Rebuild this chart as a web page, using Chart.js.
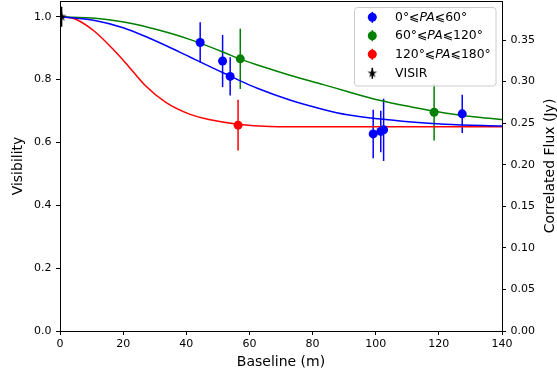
<!DOCTYPE html>
<html>
<head>
<meta charset="utf-8">
<script src="https://cdn.jsdelivr.net/npm/chart.js@4"></script>
<style>
  html, body { margin: 0; padding: 0; background: #fff; }
  #wrap { width: 557px; height: 377px; }
</style>
</head>
<body>
<div id="wrap"><canvas id="chart"></canvas></div>
<script>
// ticks
const baselineTicks = [0, 20, 40, 60, 80, 100, 120, 140];
const visTicks = [0, 0.2, 0.4, 0.6, 0.8, 1.0];
const fluxTicks = [0, 0.05, 0.10, 0.15, 0.20, 0.25, 0.30, 0.35];

// measured points (baseline m, visibility, error)
const blueX = [44.4, 51.5, 53.9, 99.2, 101.6, 102.5, 127.4];
const blueY = [0.918, 0.859, 0.810, 0.627, 0.635, 0.640, 0.691];
const blueErr = [0.064, 0.083, 0.061, 0.077, 0.066, 0.099, 0.061];

const greenX = [57.1, 118.5];
const greenY = [0.866, 0.696];
const greenErr = [0.096, 0.090];

const redX = [56.4];
const redY = [0.655];
const redErr = [0.081];

const visirX = [0.5];
const visirY = [1.0];
const visirErr = [0.032];

// model curves
const blueCurveX = [0, 11, 20, 28, 35.5, 41.3, 46.5, 51.8, 57.1, 62.3, 72.8, 83.4, 91, 100.8, 111.3, 121.9, 140];
const blueCurveY = [1.0, 0.988, 0.965, 0.933, 0.899, 0.871, 0.846, 0.821, 0.796, 0.773, 0.735, 0.705, 0.688, 0.675, 0.665, 0.658, 0.652];

const greenCurveX = [0, 11.2, 19.7, 28.1, 35.5, 41.3, 51.8, 57.1, 62.3, 72.8, 83.4, 91, 100.8, 111.3, 121.9, 132.4, 140];
const greenCurveY = [1.0, 0.995, 0.984, 0.966, 0.946, 0.927, 0.887, 0.865, 0.847, 0.814, 0.784, 0.762, 0.735, 0.713, 0.694, 0.680, 0.673];

const redCurveX = [0, 2.5, 5, 11, 17.5, 21.8, 27, 33.4, 41, 47.6, 56.3, 66.6, 80, 100, 120, 140];
const redCurveY = [1.0, 0.998, 0.992, 0.953, 0.889, 0.841, 0.781, 0.728, 0.690, 0.672, 0.658, 0.651, 0.650, 0.650, 0.650, 0.650];

const legendLabels = [
  [['0°⩽', false], ['PA', true], ['⩽60°', false]],
  [['60°⩽', false], ['PA', true], ['⩽120°', false]],
  [['120°⩽', false], ['PA', true], ['⩽180°', false]],
  [['VISIR', false]]
];
const legendColors = ['#0000ff', '#008000', '#ff0000', '#000000'];

const FONT = "'DejaVu Sans'";
Chart.defaults.font.family = FONT;
Chart.defaults.color = '#000';

const pts = (xs, ys) => xs.map((x, i) => ({ x: x, y: ys[i] }));

function makeStar(r) {
  const s = Math.ceil(r * 2) + 2;
  const c = document.createElement('canvas');
  c.width = s; c.height = s;
  const g = c.getContext('2d');
  g.beginPath();
  for (let k = 0; k < 10; k++) {
    const rad = k % 2 ? r * 0.4 : r;
    const a = -Math.PI / 2 + k * Math.PI / 5;
    g.lineTo(s / 2 + rad * Math.cos(a), s / 2 + rad * Math.sin(a));
  }
  g.closePath();
  g.fillStyle = '#000';
  g.fill();
  return c;
}
const star = makeStar(5);

const errorBars = {
  id: 'errorBars',
  beforeDatasetsDraw(chart) {
    const { ctx, chartArea: a, scales: { x, y } } = chart;
    ctx.save();
    ctx.beginPath();
    ctx.rect(a.left, a.top, a.right - a.left, a.bottom - a.top);
    ctx.clip();
    ctx.lineWidth = 1.5;
    chart.data.datasets.forEach(ds => {
      if (!ds.errors) return;
      ctx.strokeStyle = ds.borderColor;
      ds.data.forEach((p, i) => {
        const px = x.getPixelForValue(p.x);
        ctx.beginPath();
        ctx.moveTo(px, y.getPixelForValue(p.y - ds.errors[i]));
        ctx.lineTo(px, y.getPixelForValue(p.y + ds.errors[i]));
        ctx.stroke();
      });
    });
    ctx.restore();
  }
};

const extras = {
  id: 'extras',
  afterDraw(chart) {
    const { ctx, chartArea: a } = chart;
    ctx.save();
    // top frame line
    ctx.strokeStyle = '#000';
    ctx.lineWidth = 1;
    ctx.beginPath();
    ctx.moveTo(a.left, a.top + 0.5);
    ctx.lineTo(a.right, a.top + 0.5);
    ctx.stroke();

    // right axis title, reading upward
    ctx.translate(550, (a.top + a.bottom) / 2);
    ctx.rotate(-Math.PI / 2);
    ctx.font = '14px ' + FONT;
    ctx.fillStyle = '#000';
    ctx.textAlign = 'center';
    ctx.textBaseline = 'middle';
    ctx.fillText('Correlated Flux (Jy)', 0, 0);
    ctx.restore();

    // legend
    ctx.save();
    const bx = 354.5, by = 7.5, bw = 141.5, bh = 78.5, r = 3;
    ctx.beginPath();
    ctx.roundRect(bx, by, bw, bh, r);
    ctx.fillStyle = 'rgba(255,255,255,0.8)';
    ctx.fill();
    ctx.strokeStyle = '#cccccc';
    ctx.lineWidth = 1;
    ctx.stroke();
    const rows = [17.3, 35.7, 54.3, 73.3];
    ctx.textBaseline = 'middle';
    legendLabels.forEach((segs, i) => {
      const yy = rows[i];
      const mx = 372.3;
      ctx.strokeStyle = legendColors[i];
      ctx.lineWidth = 1.5;
      ctx.beginPath();
      ctx.moveTo(mx, yy - 5.5);
      ctx.lineTo(mx, yy + 5.5);
      ctx.stroke();
      if (i < 3) {
        ctx.fillStyle = legendColors[i];
        ctx.beginPath();
        ctx.arc(mx, yy, 4.5, 0, Math.PI * 2);
        ctx.fill();
      } else {
        ctx.drawImage(star, mx - star.width / 2, yy - star.height / 2);
      }
      let tx = 395;
      ctx.fillStyle = '#000';
      segs.forEach(([t, it]) => {
        ctx.font = (it ? 'italic ' : '') + '12.4px ' + FONT;
        ctx.fillText(t, tx, yy);
        tx += ctx.measureText(t).width;
      });
    });
    ctx.restore();
  }
};

const tickFont = { family: FONT, size: 11 };
const noPadY = s => { s.paddingTop = 0; s.paddingBottom = 0; };

new Chart(document.getElementById('chart'), {
  type: 'scatter',
  data: {
    datasets: [
      { label: 'visir', data: pts(visirX, visirY), errors: visirErr, borderColor: '#000', backgroundColor: '#000', pointStyle: star, pointRadius: 5 },
      { label: 'blue', data: pts(blueX, blueY), errors: blueErr, borderColor: '#0000ff', backgroundColor: '#0000ff', pointRadius: 4.5, borderWidth: 0 },
      { label: 'green', data: pts(greenX, greenY), errors: greenErr, borderColor: '#008000', backgroundColor: '#008000', pointRadius: 4.5, borderWidth: 0 },
      { label: 'red', data: pts(redX, redY), errors: redErr, borderColor: '#ff0000', backgroundColor: '#ff0000', pointRadius: 4.5, borderWidth: 0 },
      { label: 'blue fit', data: pts(blueCurveX, blueCurveY), showLine: true, pointRadius: 0, borderColor: '#0000ff', borderWidth: 1.5, cubicInterpolationMode: 'monotone' },
      { label: 'green fit', data: pts(greenCurveX, greenCurveY), showLine: true, pointRadius: 0, borderColor: '#008000', borderWidth: 1.5, cubicInterpolationMode: 'monotone' },
      { label: 'red fit', data: pts(redCurveX, redCurveY), showLine: true, pointRadius: 0, borderColor: '#ff0000', borderWidth: 1.5, cubicInterpolationMode: 'monotone' }
    ]
  },
  options: {
    responsive: true,
    maintainAspectRatio: false,
    animation: false,
    events: [],
    layout: { autoPadding: false, padding: { top: 1, left: 0, right: 0, bottom: 0 } },
    plugins: { legend: { display: false }, tooltip: { enabled: false } },
    scales: {
      x: {
        type: 'linear',
        min: 0,
        max: 140,
        afterBuildTicks: s => { s.ticks = baselineTicks.map(v => ({ value: v })); },
        afterFit: s => { s.height = 46; s.paddingLeft = 0; s.paddingRight = 0; },
        ticks: { font: tickFont, color: '#000', padding: 3, maxRotation: 0, callback: v => String(v) },
        grid: { drawOnChartArea: false, color: '#000', tickLength: 4 },
        border: { color: '#000', width: 1 },
        title: { display: true, text: 'Baseline (m)', color: '#000', font: { family: FONT, size: 14 }, padding: { top: 0, bottom: 6 } }
      },
      y: {
        position: 'left',
        min: 0,
        max: 1.05,
        afterBuildTicks: s => { s.ticks = visTicks.map(v => ({ value: v })); },
        afterFit: s => { s.width = 60; noPadY(s); },
        ticks: { font: tickFont, color: '#000', padding: 4.5, callback: v => v.toFixed(1) },
        grid: { drawOnChartArea: false, color: '#000', tickLength: 4 },
        border: { color: '#000', width: 1 },
        title: { display: true, text: 'Visibility', color: '#000', font: { family: FONT, size: 14 }, padding: { top: 10, bottom: 0 } }
      },
      y2: {
        position: 'right',
        min: 0,
        max: 0.397,
        afterBuildTicks: s => { s.ticks = fluxTicks.map(v => ({ value: v })); },
        afterFit: s => { s.width = 55; noPadY(s); },
        ticks: { font: tickFont, color: '#000', padding: 4.5, callback: v => v.toFixed(2) },
        grid: { drawOnChartArea: false, color: '#000', tickLength: 4 },
        border: { color: '#000', width: 1 }
      }
    }
  },
  plugins: [errorBars, extras]
});
</script>
</body>
</html>
